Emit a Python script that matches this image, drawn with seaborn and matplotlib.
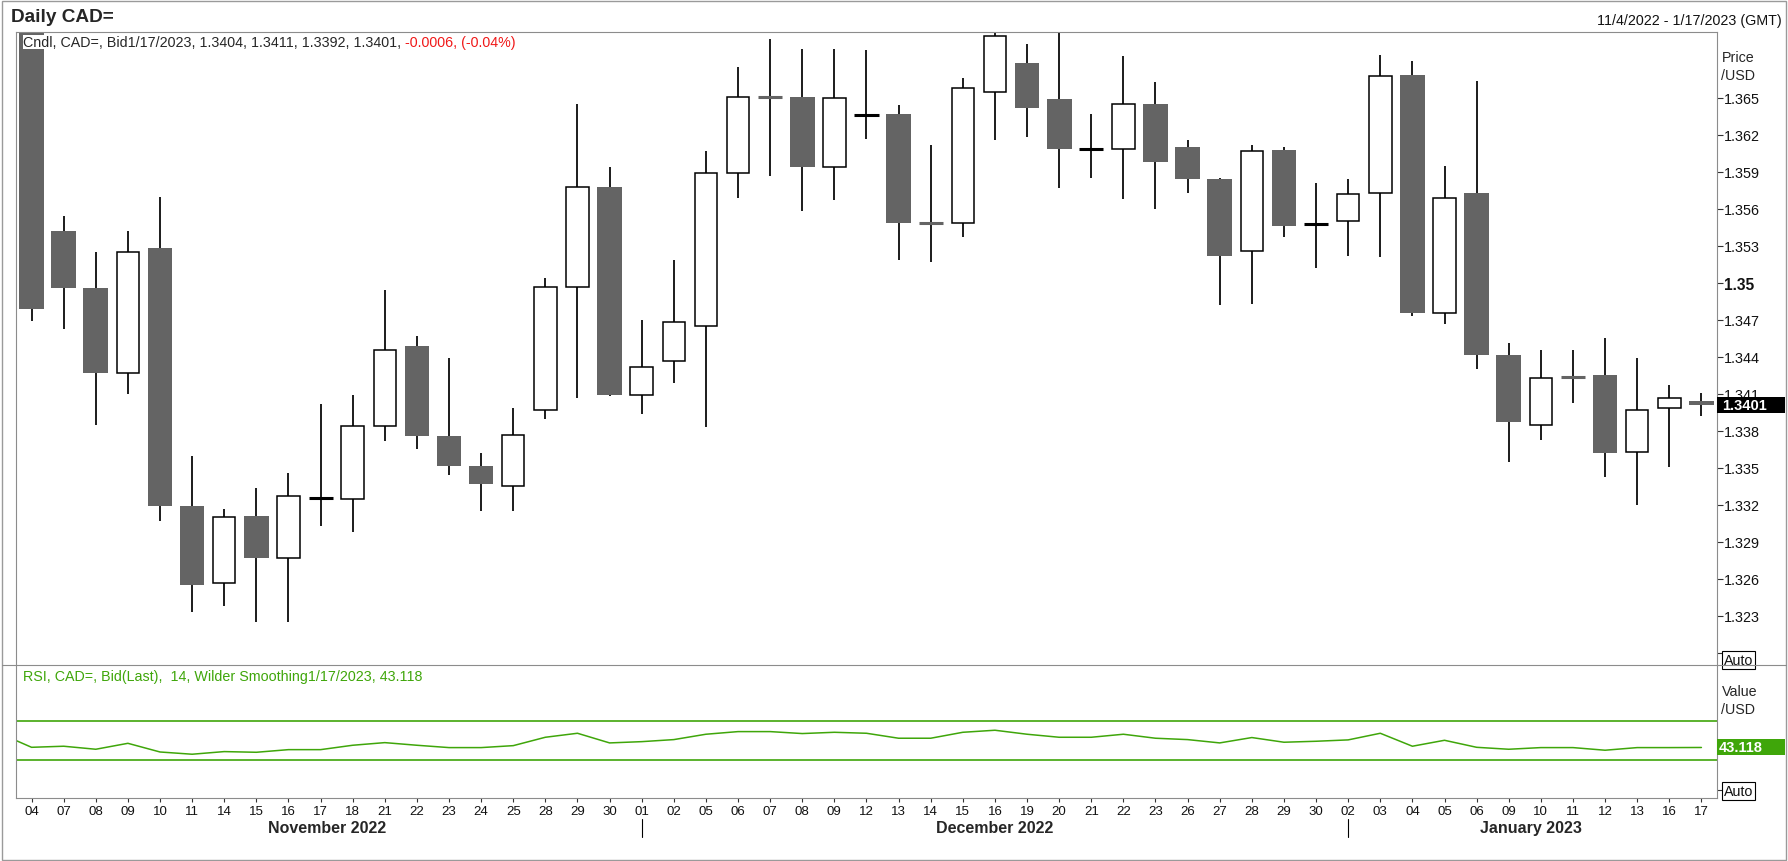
import numpy as np
import pandas as pd
import matplotlib
matplotlib.use("Agg")
import matplotlib.pyplot as plt
import seaborn as sns
from matplotlib.patches import Rectangle
from matplotlib.lines import Line2D

# daily CAD= bid candles, 4 Nov 2022 - 17 Jan 2023
dates = ["2022-11-04", "2022-11-07", "2022-11-08", "2022-11-09", "2022-11-10", "2022-11-11",
         "2022-11-14", "2022-11-15", "2022-11-16", "2022-11-17", "2022-11-18", "2022-11-21",
         "2022-11-22", "2022-11-23", "2022-11-24", "2022-11-25", "2022-11-28", "2022-11-29",
         "2022-11-30", "2022-12-01", "2022-12-02", "2022-12-05", "2022-12-06", "2022-12-07",
         "2022-12-08", "2022-12-09", "2022-12-12", "2022-12-13", "2022-12-14", "2022-12-15",
         "2022-12-16", "2022-12-19", "2022-12-20", "2022-12-21", "2022-12-22", "2022-12-23",
         "2022-12-26", "2022-12-27", "2022-12-28", "2022-12-29", "2022-12-30", "2023-01-02",
         "2023-01-03", "2023-01-04", "2023-01-05", "2023-01-06", "2023-01-09", "2023-01-10",
         "2023-01-11", "2023-01-12", "2023-01-13", "2023-01-16", "2023-01-17"]
opens = [1.3735, 1.3542, 1.3496, 1.3427, 1.3528, 1.3319, 1.3257, 1.3311, 1.3277, 1.3325,
         1.3325, 1.3384, 1.3449, 1.3376, 1.3352, 1.3335, 1.3397, 1.3497, 1.3578, 1.3409,
         1.3437, 1.3465, 1.3589, 1.3652, 1.3651, 1.3594, 1.3635, 1.3637, 1.3550, 1.3549,
         1.3655, 1.3678, 1.3649, 1.3608, 1.3609, 1.3645, 1.3610, 1.3584, 1.3526, 1.3608,
         1.3547, 1.3550, 1.3573, 1.3669, 1.3476, 1.3573, 1.3442, 1.3385, 1.3425, 1.3425,
         1.3363, 1.3399, 1.3404]
highs = [1.3760, 1.3554, 1.3525, 1.3542, 1.3570, 1.3360, 1.3317, 1.3334, 1.3346, 1.3402,
         1.3409, 1.3494, 1.3457, 1.3439, 1.3362, 1.3399, 1.3504, 1.3645, 1.3594, 1.3470,
         1.3519, 1.3607, 1.3675, 1.3698, 1.3690, 1.3690, 1.3689, 1.3644, 1.3612, 1.3666,
         1.3704, 1.3694, 1.3712, 1.3637, 1.3684, 1.3663, 1.3616, 1.3585, 1.3612, 1.3610,
         1.3581, 1.3584, 1.3685, 1.3680, 1.3595, 1.3664, 1.3451, 1.3446, 1.3446, 1.3455,
         1.3439, 1.3417, 1.3411]
lows = [1.3469, 1.3463, 1.3385, 1.3410, 1.3307, 1.3233, 1.3238, 1.3225, 1.3225, 1.3303,
        1.3298, 1.3372, 1.3365, 1.3344, 1.3315, 1.3315, 1.3390, 1.3407, 1.3408, 1.3394,
        1.3419, 1.3383, 1.3569, 1.3587, 1.3558, 1.3567, 1.3617, 1.3519, 1.3517, 1.3537,
        1.3616, 1.3618, 1.3577, 1.3585, 1.3568, 1.3560, 1.3573, 1.3482, 1.3483, 1.3537,
        1.3512, 1.3522, 1.3521, 1.3473, 1.3467, 1.3430, 1.3355, 1.3373, 1.3403, 1.3343,
        1.3320, 1.3351, 1.3392]
closes = [1.3479, 1.3496, 1.3427, 1.3525, 1.3319, 1.3255, 1.3310, 1.3277, 1.3327, 1.3326,
          1.3384, 1.3446, 1.3376, 1.3352, 1.3337, 1.3377, 1.3497, 1.3578, 1.3409, 1.3432,
          1.3468, 1.3589, 1.3651, 1.3651, 1.3594, 1.3650, 1.3636, 1.3549, 1.3549, 1.3658,
          1.3700, 1.3642, 1.3609, 1.3609, 1.3645, 1.3598, 1.3584, 1.3522, 1.3607, 1.3546,
          1.3548, 1.3572, 1.3668, 1.3476, 1.3569, 1.3442, 1.3387, 1.3423, 1.3424, 1.3362,
          1.3397, 1.3407, 1.3401]

# RSI(14) - first value is the day before the window (3 Nov), only its slope shows
rsi_prev = 57.7
rsi = [43.3, 44.4, 41.3, 47.4, 38.5, 36.2, 38.9, 38.2, 40.9, 40.9, 45.4, 48.1, 45.4, 43.0,
       43.0, 45.0, 53.6, 57.7, 47.8, 49.1, 51.2, 56.7, 59.4, 59.4, 57.4, 58.7, 57.7, 52.6,
       52.6, 58.7, 60.8, 56.7, 53.6, 53.6, 56.7, 52.6, 51.2, 47.8, 53.3, 48.5, 49.5, 50.9,
       57.7, 44.4, 50.5, 43.3, 41.3, 43.0, 43.0, 40.3, 43.0, 43.0, 43.118]
rsi_bands = [70, 30]

price_ticks = [1.320, 1.323, 1.326, 1.329, 1.332, 1.335, 1.338, 1.341, 1.344, 1.347,
               1.350, 1.353, 1.356, 1.359, 1.362, 1.365]

GRAY = "#646464"
GREEN = "#3fa60a"
FRAME = "#8c8c8c"

W, H = 1788, 862


def fx(px):
    return px / W


def fy(py):
    return 1 - py / H


sns.set_style("white")
plt.rcParams["font.family"] = ["Liberation Sans", "DejaVu Sans"]

df = pd.DataFrame({"date": pd.to_datetime(dates), "open": opens, "high": highs,
                   "low": lows, "close": closes, "rsi": rsi})
df["x"] = np.arange(len(df))

fig = plt.figure(figsize=(W / 100, H / 100), dpi=100)
ax = fig.add_axes([fx(15.5), fy(666.3), fx(1716.5) - fx(15.5), fy(33) - fy(666.3)])
ax2 = fig.add_axes([fx(15.5), fy(799.3), fx(1716.5) - fx(15.5), fy(666.3) - fy(799.3)])

# candles
x = df["x"].values
o, hi, lo, c = df["open"].values, df["high"].values, df["low"].values, df["close"].values
up = c >= o
doji = np.abs(c - o) < 0.0002
ax.vlines(x, lo, hi, color="black", lw=1.25, zorder=1)
m = up & ~doji
ax.bar(x[m], (c - o)[m], bottom=o[m], width=0.70, facecolor="white",
       edgecolor="black", lw=1.1, zorder=2)
m = ~up & ~doji
ax.bar(x[m], (o - c)[m], bottom=c[m], width=0.77, color=GRAY, lw=0, zorder=2)
m = doji & up
ax.hlines(c[m], x[m] - 0.375, x[m] + 0.375, color="black", lw=2.2, zorder=3)
m = doji & ~up
ax.hlines(c[m], x[m] - 0.375, x[m] + 0.375, color=GRAY, lw=2.2, zorder=3)

ax.set_xlim(-0.5, 52.47)
ax.set_ylim(1.319, 1.37035)
ax.set_xticks([])
labels = []
for t in price_ticks:
    if abs(t - 1.32) < 1e-9:
        labels.append("Auto")
    elif abs(t - 1.35) < 1e-9:
        labels.append("1.35")
    else:
        labels.append(f"{t:.3f}")
ax.yaxis.tick_right()
ax.set_yticks(price_ticks, labels)
ax.tick_params(axis="y", direction="out", length=4.3, width=0.8, pad=1,
               labelsize=10.4, color="#333333", labelcolor="#111111")
for lbl in ax.get_yticklabels():
    if lbl.get_text() == "Auto":
        lbl.set_bbox(dict(facecolor="white", edgecolor="black", lw=0.8, pad=1.2))
        lbl.set_fontsize(10.3)
        lbl.set_verticalalignment("top")
    elif lbl.get_text() == "1.35":
        lbl.set_fontweight("bold")
        lbl.set_fontsize(11.2)

# RSI panel
xr = np.concatenate([[-1], x])
yr = np.concatenate([[rsi_prev], df["rsi"].values])
sns.lineplot(x=xr, y=yr, ax=ax2, color=GREEN, lw=1.1, sort=False)
for b in rsi_bands:
    ax2.axhline(b, color=GREEN, lw=1.2)
ax2.set_xlim(-0.5, 52.47)
ax2.set_ylim(-9, 127.4)
ax2.yaxis.tick_right()
ax2.set_yticks([0], ["Auto"])
ax2.tick_params(axis="y", direction="out", length=4.3, width=0.8, pad=1,
                labelsize=10.3, color="#333333", labelcolor="#111111")
for lbl in ax2.get_yticklabels():
    lbl.set_bbox(dict(facecolor="white", edgecolor="black", lw=0.8, pad=1.2))
ax2.set_xticks(x, df["date"].dt.strftime("%d"))
ax2.tick_params(axis="x", direction="out", length=3, width=0.8, pad=1.5,
                labelsize=9.5, color="#333333", labelcolor="#111111", bottom=True)
ax2.set_xlabel("")
ax2.set_ylabel("")

for a in (ax, ax2):
    for s in a.spines.values():
        s.set_color(FRAME)
        s.set_linewidth(0.8)
ax.spines["bottom"].set_visible(False)
ax2.spines["top"].set_visible(False)

# month labels and separators
month = df["date"].dt.to_period("M")
month_pos = [9.2, 30.0, 46.7]
for i, (per, grp) in enumerate(df.groupby(month)):
    ax2.text(month_pos[i], -0.223, grp["date"].iloc[0].strftime("%B %Y"),
             transform=ax2.get_xaxis_transform(), ha="center", va="center",
             fontsize=11.5, fontweight="bold")
    if i > 0:
        xs = grp["x"].iloc[0]
        ax2.plot([xs, xs], [-0.155, -0.29], transform=ax2.get_xaxis_transform(),
                 color="black", lw=0.8, clip_on=False)

# last value boxes
h_p = 16 * (1.37035 - 1.319) / 633.3
ax.add_patch(Rectangle((1.0003, closes[-1] - h_p / 2), 68 / 1701, h_p,
                       transform=ax.get_yaxis_transform(), clip_on=False,
                       facecolor="black", lw=0, zorder=5))
ax.text(1.0035, closes[-1], f"{closes[-1]:.4f}", transform=ax.get_yaxis_transform(),
        ha="left", va="center", color="white", fontsize=10.5, fontweight="bold", zorder=6)
h_r = 16 * (127.4 + 9) / 133
ax2.add_patch(Rectangle((1.0003, rsi[-1] - h_r / 2 + 0.5), 68 / 1701, h_r,
                        transform=ax2.get_yaxis_transform(), clip_on=False,
                        facecolor=GREEN, lw=0, zorder=5))
ax2.text(1.0012, rsi[-1] + 0.5, f"{rsi[-1]:.3f}", transform=ax2.get_yaxis_transform(),
         ha="left", va="center", color="white", fontsize=10.5, fontweight="bold", zorder=6)

# frame lines
fig.add_artist(Line2D([fx(1.5), fx(1786)], [fy(666.3), fy(666.3)], color=FRAME, lw=0.8))
fig.add_artist(Rectangle((fx(1.5), fy(860.5)), fx(1786) - fx(1.5), fy(1.5) - fy(860.5),
                         transform=fig.transFigure, fill=False, edgecolor="#9a9a9a", lw=1))

# header texts
fig.text(fx(11), fy(17), "Daily CAD=", ha="left", va="center", fontsize=13.7,
         fontweight="bold")
fig.text(fx(1782), fy(21), "11/4/2022 - 1/17/2023 (GMT)", ha="right", va="center",
         fontsize=10.3, color="#111111")
t1 = fig.text(fx(23), fy(43), "Cndl, CAD=, Bid1/17/2023, 1.3404, 1.3411, 1.3392, 1.3401,",
              ha="left", va="center", fontsize=10.3,
              bbox=dict(facecolor="white", edgecolor="none", pad=0.3))
fig.canvas.draw()
bb = t1.get_window_extent()
fig.text((bb.x1 + 4) / W, fy(43), "-0.0006, (-0.04%)", ha="left", va="center",
         fontsize=10.3, color="#f01818")
fig.text(fx(23), fy(677), "RSI, CAD=, Bid(Last),  14, Wilder Smoothing1/17/2023, 43.118",
         ha="left", va="center", fontsize=10.3, color=GREEN)
fig.text(fx(1722), fy(58), "Price", ha="left", va="center", fontsize=10.3)
fig.text(fx(1721), fy(76), "/USD", ha="left", va="center", fontsize=10.3)
fig.text(fx(1722), fy(692), "Value", ha="left", va="center", fontsize=10.3)
fig.text(fx(1721), fy(710), "/USD", ha="left", va="center", fontsize=10.3)

fig.savefig("out.png", dpi=100)
